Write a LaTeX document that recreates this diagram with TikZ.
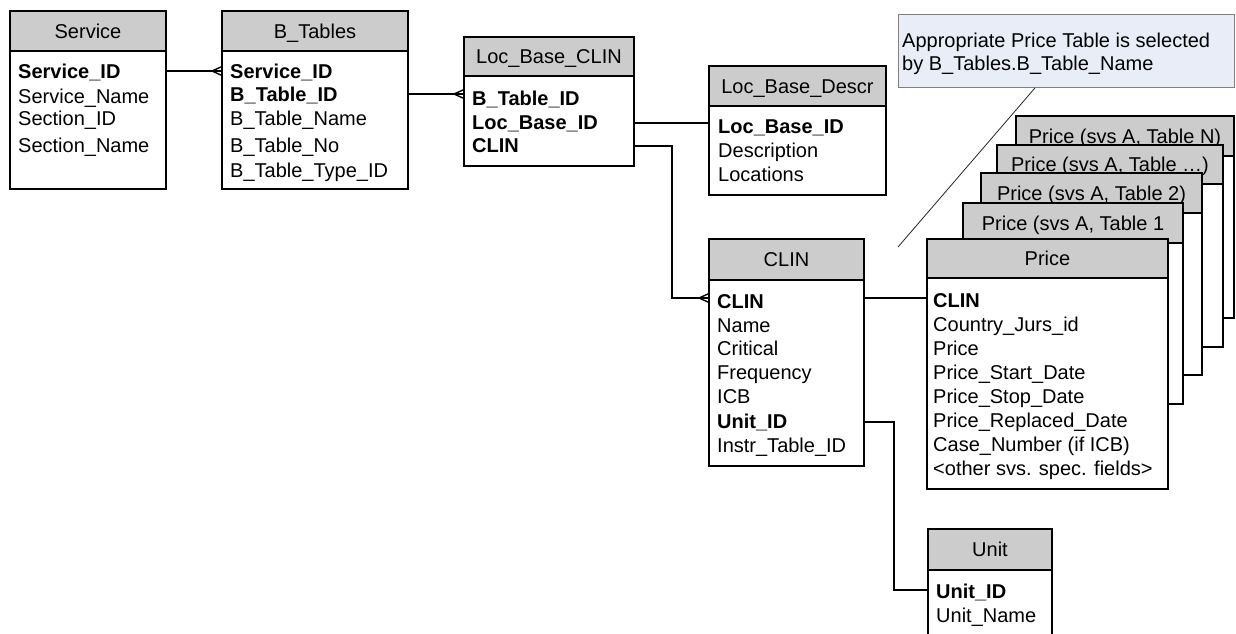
\documentclass[tikz,border=0pt]{standalone}
\usepackage{fontspec}
\setmainfont{Liberation Sans}
\definecolor{hdrgray}{RGB}{204,204,204}
\definecolor{callfill}{RGB}{232,237,247}
\definecolor{callline}{RGB}{128,128,128}
\newcommand\tfont{\fontsize{20}{24}\selectfont}
\newcommand\crowfoot[1]{\draw[conn] ([xshift=-10pt]#1) -- ([yshift=4.5pt]#1) ([xshift=-10pt]#1) -- ([yshift=-4.5pt]#1);}
% \tbl{name}{x}{y}{width}{header h}{body h}{title}
\newcommand\tbl[7]{%
  \node[hdr, minimum width=#4pt, minimum height=#5pt] (#1h) at (#2,#3) {#7};
  \node[bdy, minimum width=#4pt, minimum height=#6pt] (#1b) at (#2,{#3+#5}) {};
}
\begin{document}
\begin{tikzpicture}[x=1pt,y=-1pt,
  hdr/.style={draw, line width=1.5pt, fill=hdrgray, anchor=north west, inner sep=0pt, outer sep=0pt, font=\tfont, text height=14.2pt, text depth=0pt},
  bdy/.style={draw, line width=1.5pt, fill=white, anchor=north west, inner sep=0pt, outer sep=0pt},
  fld/.style={anchor=base west, inner sep=0pt, font=\tfont},
  fldb/.style={fld, font=\tfont\bfseries},
  conn/.style={line width=1.4pt},
  callbox/.style={draw=callline, line width=0.9pt, fill=callfill, anchor=north west, inner sep=0pt},
  ptr/.style={draw=black!85, line width=0.8pt}]
\clip (0,0) rectangle (1236,633);
\fill[white] (0,0) rectangle (1236,633);

% Service
\tbl{svc}{10}{11}{156}{40}{138}{Service}
\node[fldb] (svc1) at (18,78) {Service\_ID};
\node[fld] (svc2) at (18,103) {Service\_Name};
\node[fld] (svc3) at (18,125) {Section\_ID};
\node[fld] (svc4) at (18,152.5) {Section\_Name};

% B_Tables
\tbl{bt}{222}{11}{186}{40}{138}{B\_Tables}
\node[fldb] (bt1) at (230,78) {Service\_ID};
\node[fldb] (bt2) at (230,101.5) {B\_Table\_ID};
\node[fld] (bt3) at (230,125) {B\_Table\_Name};
\node[fld] (bt4) at (230,152.5) {B\_Table\_No};
\node[fld] (bt5) at (230,177.5) {B\_Table\_Type\_ID};

% Loc_Base_CLIN
\tbl{lbc}{464}{37}{170}{39}{90}{Loc\_Base\_CLIN}
\node[fldb] (lbc1) at (472,105) {B\_Table\_ID};
\node[fldb] (lbc2) at (472,129) {Loc\_Base\_ID};
\node[fldb] (lbc3) at (472,152.5) {CLIN};

% Loc_Base_Descr
\tbl{lbd}{709}{66}{177}{40}{89}{Loc\_Base\_Descr}
\node[fldb] (lbd1) at (718,133.5) {Loc\_Base\_ID};
\node[fld] (lbd2) at (718,157.5) {Description};
\node[fld] (lbd3) at (718,181.5) {Locations};

% CLIN
\tbl{clin}{709}{239}{155}{41}{186}{CLIN}
\node[fldb] (cl1) at (717,308) {CLIN};
\node[fld] (cl2) at (717,332) {Name};
\node[fld] (cl3) at (717,355.5) {Critical};
\node[fld] (cl4) at (717,379.5) {Frequency};
\node[fld] (cl5) at (717,403.5) {ICB};
\node[fldb] (cl6) at (717,428) {Unit\_ID};
\node[fld] (cl7) at (717,452) {Instr\_Table\_ID};

% Price stack (back to front)
\tbl{pN}{1016}{116}{218}{40}{162}{Price (svs A, Table N)}
\tbl{pd}{997}{145}{226}{39}{163}{Price (svs A, Table …)}
\tbl{ptwo}{981}{173}{221}{40}{162}{Price (svs A, Table 2)}
\tbl{pone}{963}{203}{220}{40}{161}{Price (svs A, Table 1}
\tbl{p}{927}{239}{241}{39}{211}{Price}
\node[fldb] (p1) at (933,307) {CLIN};
\node[fld] (p2) at (933,331) {Country\_Jurs\_id};
\node[fld] (p3) at (933,355) {Price};
\node[fld] (p4) at (933,379) {Price\_Start\_Date};
\node[fld] (p5) at (933,403) {Price\_Stop\_Date};
\node[fld] (p6) at (933,427) {Price\_Replaced\_Date};
\node[fld] (p7) at (933,451) {Case\_Number (if ICB)};
\node[fld] (p8) at (933,475) {<other svs. spec. fields>};

% Unit
\tbl{unit}{928}{529}{124}{41}{90}{Unit}
\node[fldb] (u1) at (936,598) {Unit\_ID};
\node[fld] (u2) at (936,622) {Unit\_Name};

% Callout
\node[callbox, minimum width=336pt, minimum height=73pt] (callout) at (898,14) {};
\node[fld] (ct1) at (902,47) {Appropriate Price Table is selected};
\node[fld] (ct2) at (902,70) {by B\_Tables.B\_Table\_Name};
\coordinate (cpt) at (898,247);
\draw[ptr] ([xshift=137pt]callout.south west) -- (cpt);

% Connectors
\coordinate (y1) at (0,71);
\coordinate (y2) at (0,94);
\coordinate (y3) at (0,123);
\coordinate (y4) at (0,146);
\coordinate (x4) at (672,0);
\coordinate (y5) at (0,298);
\coordinate (y6) at (0,422);
\coordinate (x6) at (894,0);
\coordinate (y7) at (0,590);

\coordinate (cf1) at (btb.west |- y1);
\draw[conn] (svcb.east |- y1) -- (cf1);
\crowfoot{cf1}

\coordinate (cf2) at (lbcb.west |- y2);
\draw[conn] (btb.east |- y2) -- (cf2);
\crowfoot{cf2}

\draw[conn] (lbcb.east |- y3) -- (lbdb.west |- y3);

\coordinate (cf3) at (clinb.west |- y5);
\draw[conn] (lbcb.east |- y4) -| (x4 |- y5) -- (cf3);
\crowfoot{cf3}

\draw[conn] (clinb.east |- y5) -- (pb.west |- y5);

\draw[conn] (clinb.east |- y6) -| (x6 |- y7) -- (unitb.west |- y7);
\end{tikzpicture}
\end{document}
